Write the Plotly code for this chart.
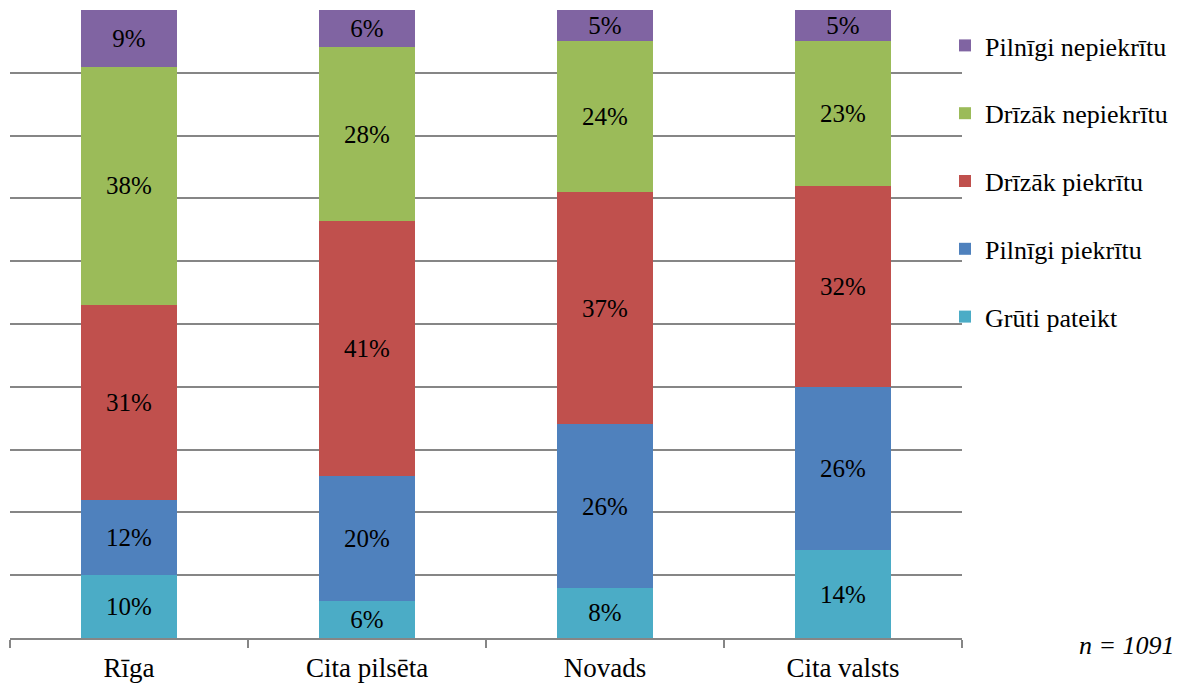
import plotly.graph_objects as go

categories = ["Rīga", "Cita pilsēta", "Novads", "Cita valsts"]
series_names = ["Grūti pateikt", "Pilnīgi piekrītu", "Drīzāk piekrītu", "Drīzāk nepiekrītu", "Pilnīgi nepiekrītu"]
gruti_pateikt = [10, 6, 8, 14]
pilnigi_piekritu = [12, 20, 26, 26]
drizak_piekritu = [31, 41, 37, 32]
drizak_nepiekritu = [38, 28, 24, 23]
pilnigi_nepiekritu = [9, 6, 5, 5]
series_values = [gruti_pateikt, pilnigi_piekritu, drizak_piekritu, drizak_nepiekritu, pilnigi_nepiekritu]
colors = ["#4BACC6", "#4F81BD", "#C0504D", "#9BBB59", "#8064A2"]

FONT = "Liberation Serif"

fig = go.Figure()
n = len(series_names)
for i, (name, vals, col) in enumerate(zip(series_names, series_values, colors)):
    fig.add_trace(go.Bar(
        x=categories, y=vals, name=name,
        marker=dict(color=col, line=dict(width=0)),
        text=[f"{v}%" for v in vals],
        textposition="inside", insidetextanchor="middle",
        textangle=0, constraintext="none",
        textfont=dict(family=FONT, size=25, color="black"),
        legendgroup=name, legendrank=n - i,
    ))

# page has an 8px body margin; express positions in page pixels and shift
OFF = 8
W, H = 1181, 684
PL, PR, PT, PB = 10, 962, 10, 638  # plot area in page pixels
L, T = PL - OFF, PT - OFF
R = W - (PR - OFF)
B = H - (PB - OFF)
PW, PH = W - L - R, H - T - B

def px_x(x):
    return (x - OFF - L) / PW

def px_y(y):
    return (H - B - (y - OFF)) / PH

fig.update_layout(
    width=W, height=H,
    barmode="stack", barnorm="percent", bargap=0.6,
    margin=dict(l=L, r=R, t=T, b=B),
    paper_bgcolor="white", plot_bgcolor="white",
    font=dict(family=FONT, size=26, color="black"),
    legend=dict(
        traceorder="grouped", tracegroupgap=31,
        x=px_x(945), xanchor="left", y=px_y(22), yanchor="top",
        font=dict(family=FONT, size=26, color="black"),
        bgcolor="rgba(0,0,0,0)",
    ),
    xaxis=dict(
        showline=True, linecolor="#868686", linewidth=1.5,
        ticks="outside", tickson="boundaries", ticklen=8, tickcolor="#868686", tickwidth=1.5,
        tickfont=dict(family=FONT, size=27, color="black"),
        ticklabelstandoff=5,
        showgrid=False,
    ),
    yaxis=dict(
        range=[0, 100], dtick=10, showticklabels=False,
        showgrid=True, gridcolor="#868686", gridwidth=1.5,
        zeroline=False, showline=False,
    ),
    showlegend=True,
)
fig.add_annotation(
    text="<i>n = 1091</i>", xref="paper", yref="paper",
    x=px_x(1177), xanchor="right",
    y=px_y(645), yanchor="middle",
    showarrow=False, font=dict(family=FONT, size=26, color="black"),
)
fig.write_html("out.html")
